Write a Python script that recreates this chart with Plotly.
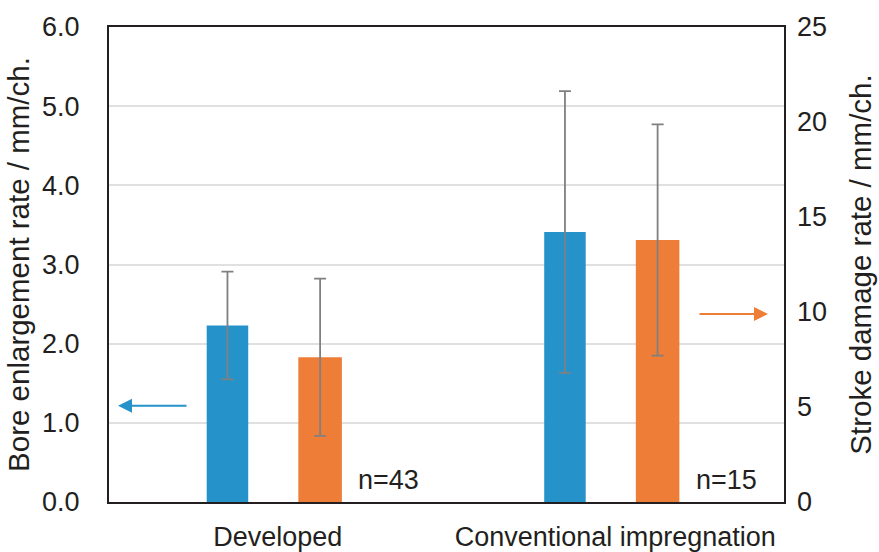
import plotly.graph_objects as go

categories = ["Developed", "Conventional impregnation"]
bore_rate = [2.23, 3.41]          # left axis, mm/ch.
bore_err = [0.68, 1.78]
stroke_rate = [7.62, 13.79]       # right axis, mm/ch.
stroke_err = [4.14, 6.09]
n_labels = ["n=43", "n=15"]

left_ticks = [0, 1, 2, 3, 4, 5, 6]
right_ticks = [0, 5, 10, 15, 20, 25]

BLUE = "#2593c9"
ORANGE = "#ed7d37"
TXT = "#231f20"
FONT = "Liberation Sans, Arial, sans-serif"

fig = go.Figure()
fig.add_trace(go.Bar(
    x=categories, y=bore_rate, yaxis="y", marker=dict(color=BLUE, line=dict(width=0)),
    width=0.123, offset=-0.2105,
    error_y=dict(type="data", array=bore_err, visible=True, color="#808080", thickness=1.8, width=6),
    showlegend=False,
))
fig.add_trace(go.Bar(
    x=categories, y=stroke_rate, yaxis="y2", marker=dict(color=ORANGE, line=dict(width=0)),
    width=0.129, offset=0.061,
    error_y=dict(type="data", array=stroke_err, visible=True, color="#808080", thickness=1.8, width=6),
    showlegend=False,
))

fig.update_layout(
    width=879, height=552,
    margin=dict(l=109, r=95, t=27, b=50, autoexpand=False),
    paper_bgcolor="white", plot_bgcolor="white",
    font=dict(family=FONT, size=27, color=TXT),
    barmode="overlay",
    xaxis=dict(
        range=[-0.5, 1.5], showgrid=False, zeroline=False,
        showline=True, linecolor=TXT, linewidth=2, mirror=True,
        ticks="", tickfont=dict(size=27, color=TXT), ticklabelstandoff=10,
    ),
    yaxis=dict(
        range=[0, 6], tickvals=left_ticks, tickformat=".1f",
        showgrid=True, gridcolor="#e0e0e0", gridwidth=1.5, zeroline=False,
        showline=True, linecolor=TXT, linewidth=2, mirror=True,
        ticks="", ticklabelstandoff=22, tickfont=dict(size=27, color=TXT),
        title=dict(text="Bore enlargement rate / mm/ch.", font=dict(size=29.5, color=TXT), standoff=4),
    ),
    yaxis2=dict(
        range=[0, 25], tickvals=right_ticks, overlaying="y", side="right",
        showgrid=False, zeroline=False, showline=False,
        ticks="", ticklabelstandoff=12, tickfont=dict(size=27, color=TXT),
        title=dict(text="Stroke damage rate / mm/ch.", font=dict(size=29.5, color=TXT), standoff=24),
    ),
)

# direction arrows
fig.add_annotation(xref="paper", yref="paper", x=0.0133, y=0.2027, ax=70, ay=0,
                   text="", showarrow=True, arrowhead=2, arrowsize=1.4, arrowwidth=2, arrowcolor=BLUE)
fig.add_annotation(xref="paper", yref="paper", x=0.9763, y=0.3958, ax=-70, ay=0,
                   text="", showarrow=True, arrowhead=2, arrowsize=1.4, arrowwidth=2, arrowcolor=ORANGE)

# sample size labels
for xp, lab in zip([0.414, 0.9148], n_labels):
    fig.add_annotation(xref="paper", yref="paper", x=xp, y=0.046, text=lab, showarrow=False,
                       font=dict(size=27, color=TXT), xanchor="center", yanchor="middle")

fig.write_html("out.html", config={"displayModeBar": False},
               post_script="document.body.style.margin='0';document.body.style.padding='0';")
